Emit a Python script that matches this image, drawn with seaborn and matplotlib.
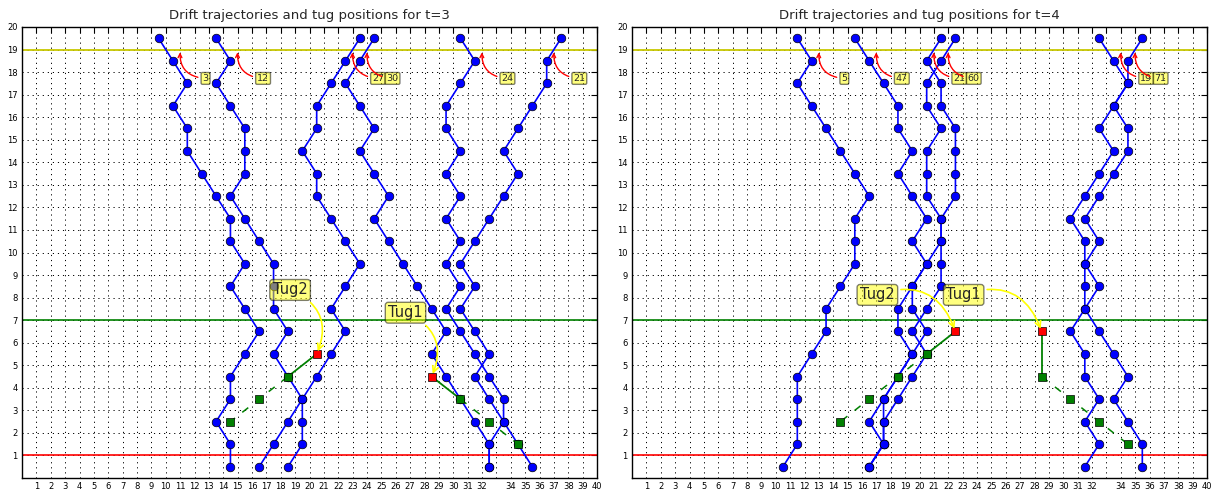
import matplotlib
matplotlib.use("Agg")
import matplotlib.pyplot as plt
import numpy as np
import pandas as pd
import seaborn as sns

# Grid rows visited by every drifting object, from the top of the field down
rows = [19.5, 18.5, 17.5, 16.5, 15.5, 14.5, 13.5, 12.5, 11.5, 10.5,
        9.5, 8.5, 7.5, 6.5, 5.5, 4.5, 3.5, 2.5, 1.5, 0.5]

# ---- t = 3 : drift trajectories (x position per row) ----
t3_ids = [3, 12, 27, 30, 24, 21]
t3_drift_3 = [9.5, 10.5, 11.5, 10.5, 11.5, 11.5, 12.5, 13.5, 14.5, 14.5,
              15.5, 14.5, 15.5, 16.5, 15.5, 14.5, 14.5, 13.5, 14.5, 14.5]
t3_drift_12 = [13.5, 14.5, 13.5, 14.5, 15.5, 15.5, 15.5, 14.5, 15.5, 16.5,
               17.5, 17.5, 17.5, 18.5, 17.5, 18.5, 19.5, 19.5, 19.5, 18.5]
t3_drift_27 = [23.5, 22.5, 21.5, 20.5, 20.5, 19.5, 20.5, 20.5, 21.5, 22.5,
               23.5, 22.5, 21.5, 22.5, 21.5, 20.5, 19.5, 18.5, 17.5, 16.5]
t3_drift_30 = [24.5, 23.5, 22.5, 23.5, 24.5, 23.5, 24.5, 25.5, 24.5, 25.5,
               26.5, 27.5, 28.5, 29.5, 28.5, 29.5, 30.5, 31.5, 32.5, 32.5]
t3_drift_24 = [30.5, 31.5, 30.5, 29.5, 29.5, 30.5, 29.5, 30.5, 29.5, 30.5,
               29.5, 30.5, 29.5, 30.5, 31.5, 32.5, 33.5, 33.5, 34.5, 35.5]
t3_drift_21 = [37.5, 36.5, 36.5, 35.5, 34.5, 33.5, 34.5, 33.5, 32.5, 31.5,
               30.5, 31.5, 30.5, 31.5, 32.5, 31.5, 32.5, 33.5, 32.5, 32.5]

# t = 3 : tug tracks (current position first, then earlier positions)
t3_tug1_x = [28.5, 30.5, 32.5, 34.5]
t3_tug1_y = [4.5, 3.5, 2.5, 1.5]
t3_tug2_x = [20.5, 18.5, 16.5, 14.5]
t3_tug2_y = [5.5, 4.5, 3.5, 2.5]

# ---- t = 4 : drift trajectories ----
t4_ids = [5, 47, 21, 60, 19, 71]
t4_drift_5 = [11.5, 12.5, 11.5, 12.5, 13.5, 14.5, 15.5, 16.5, 15.5, 15.5,
              15.5, 14.5, 13.5, 13.5, 12.5, 11.5, 11.5, 11.5, 11.5, 10.5]
t4_drift_47 = [15.5, 16.5, 17.5, 18.5, 18.5, 19.5, 18.5, 19.5, 20.5, 19.5,
               20.5, 19.5, 18.5, 18.5, 19.5, 18.5, 17.5, 16.5, 17.5, 16.5]
t4_drift_21 = [21.5, 20.5, 21.5, 21.5, 22.5, 22.5, 22.5, 22.5, 21.5, 21.5,
               21.5, 21.5, 20.5, 19.5, 20.5, 19.5, 18.5, 17.5, 17.5, 16.5]
t4_drift_60 = [22.5, 21.5, 20.5, 20.5, 21.5, 20.5, 20.5, 20.5, 21.5, 21.5,
               20.5, 19.5, 19.5, 20.5, 19.5, 18.5, 17.5, 17.5, 17.5, 16.5]
t4_drift_19 = [32.5, 33.5, 34.5, 33.5, 32.5, 33.5, 32.5, 31.5, 30.5, 31.5,
               31.5, 31.5, 31.5, 30.5, 31.5, 31.5, 32.5, 31.5, 32.5, 31.5]
t4_drift_71 = [35.5, 34.5, 34.5, 33.5, 34.5, 34.5, 33.5, 32.5, 31.5, 32.5,
               31.5, 32.5, 31.5, 32.5, 33.5, 34.5, 33.5, 34.5, 35.5, 35.5]

t4_tug1_x = [28.5, 28.5, 30.5, 32.5, 34.5]
t4_tug1_y = [6.5, 4.5, 3.5, 2.5, 1.5]
t4_tug2_x = [22.5, 20.5, 18.5, 16.5, 14.5]
t4_tug2_y = [6.5, 5.5, 4.5, 3.5, 2.5]

# Horizontal boundary lines
entry_line = 19
tug_line = 7
exit_line = 1

# Tick labels
x_ticks = list(range(1, 41))
x_tick_labels = [str(v) if v != 33 else "" for v in x_ticks]
y_ticks = list(range(1, 21))
y_tick_labels = [str(v) for v in y_ticks]

sns.set_style("white")
plt.rcParams["font.family"] = ["DejaVu Sans"]

fig = plt.figure(figsize=(12.15, 4.95), dpi=100)
ax_left = fig.add_axes([22 / 1215, 17 / 495, 575 / 1215, 451 / 495])
ax_right = fig.add_axes([632 / 1215, 17 / 495, 575 / 1215, 451 / 495])


def draw_panel(ax, t, ids, tracks, tug1, tug2, tug1_text, tug2_text):
    frames = []
    for ident, xs in zip(ids, tracks):
        frames.append(pd.DataFrame({"x": xs, "y": rows, "obj": ident}))
    df = pd.concat(frames, ignore_index=True)

    ax.axhline(entry_line, color="#c8c800", lw=1.3, zorder=1.5)
    ax.axhline(tug_line, color="g", lw=1.2, zorder=1.5)
    ax.axhline(exit_line, color="r", lw=1.4, alpha=0.85, zorder=1.5)

    sns.lineplot(data=df, x="x", y="y", units="obj", estimator=None,
                 sort=False, color="blue", lw=1.2, marker="o",
                 markersize=6.2, markeredgecolor="k", markeredgewidth=0.5,
                 legend=False, ax=ax)

    # Tugs: solid link to the latest move, dashed for older moves
    for tx, ty in (tug1, tug2):
        ax.plot(tx[:2], ty[:2], "-", color="g", lw=1.3, zorder=3)
        ax.plot(tx[1:], ty[1:], "--", color="g", lw=1.1, zorder=3,
                dashes=(5, 6))
        ax.plot(tx[1:], ty[1:], "s", color="g", ms=6, mec="k", mew=0.5,
                zorder=3.5)
        ax.plot(tx[:1], ty[:1], "s", color="r", ms=6, mec="k", mew=0.5,
                zorder=3.5)

    for name, (tx, ty), pos in (("Tug2", tug2, tug2_text),
                                ("Tug1", tug1, tug1_text)):
        ax.annotate(name, xy=(tx[0], ty[0]), xytext=pos, textcoords="data",
                    ha="center", va="center", fontsize=10.5, zorder=5,
                    bbox=dict(boxstyle="round,pad=0.2", fc="yellow",
                              ec="black", lw=1.0, alpha=0.5),
                    arrowprops=dict(arrowstyle="->", color="yellow", lw=1.2,
                                    connectionstyle="arc3,rad=-0.5"))

    # Object numbers where each trajectory crosses the entry line
    for ident, xs in zip(ids, tracks):
        tip = xs[1] + 0.5
        ax.annotate(str(ident), xy=(tip, entry_line),
                    xytext=(tip + 1.77, 17.72), textcoords="data",
                    ha="center", va="center", fontsize=6.8, zorder=5,
                    bbox=dict(boxstyle="round,pad=0.15", fc="yellow",
                              ec="black", lw=1.0, alpha=0.5),
                    arrowprops=dict(arrowstyle="->", color="red", lw=1.0,
                                    connectionstyle="arc3,rad=-0.5"))

    ax.set_xlim(0, 40)
    ax.set_ylim(0, 20)
    ax.set_xticks(x_ticks)
    ax.set_xticklabels(x_tick_labels)
    ax.set_yticks(y_ticks)
    ax.set_yticklabels(y_tick_labels)
    ax.set_xlabel("")
    ax.set_ylabel("")
    ax.grid(True, linestyle=(0, (1.2, 4)), color="k", lw=0.7)
    ax.set_axisbelow(True)
    ax.tick_params(direction="in", top=True, right=True, length=4,
                   width=0.8, labelsize=6, pad=3, colors="k")
    for sp in ax.spines.values():
        sp.set_visible(True)
        sp.set_color("k")
        sp.set_linewidth(1.0)
    ax.set_title(f"Drift trajectories and tug positions for t={t}",
                 fontsize=9.5, pad=6)


draw_panel(ax_left, 3, t3_ids,
           [t3_drift_3, t3_drift_12, t3_drift_27, t3_drift_30,
            t3_drift_24, t3_drift_21],
           (t3_tug1_x, t3_tug1_y), (t3_tug2_x, t3_tug2_y),
           tug1_text=(26.68, 7.33), tug2_text=(18.65, 8.34))

draw_panel(ax_right, 4, t4_ids,
           [t4_drift_5, t4_drift_47, t4_drift_21, t4_drift_60,
            t4_drift_19, t4_drift_71],
           (t4_tug1_x, t4_tug1_y), (t4_tug2_x, t4_tug2_y),
           tug1_text=(23.07, 8.12), tug2_text=(17.07, 8.12))

fig.savefig("out.png", dpi=100)
